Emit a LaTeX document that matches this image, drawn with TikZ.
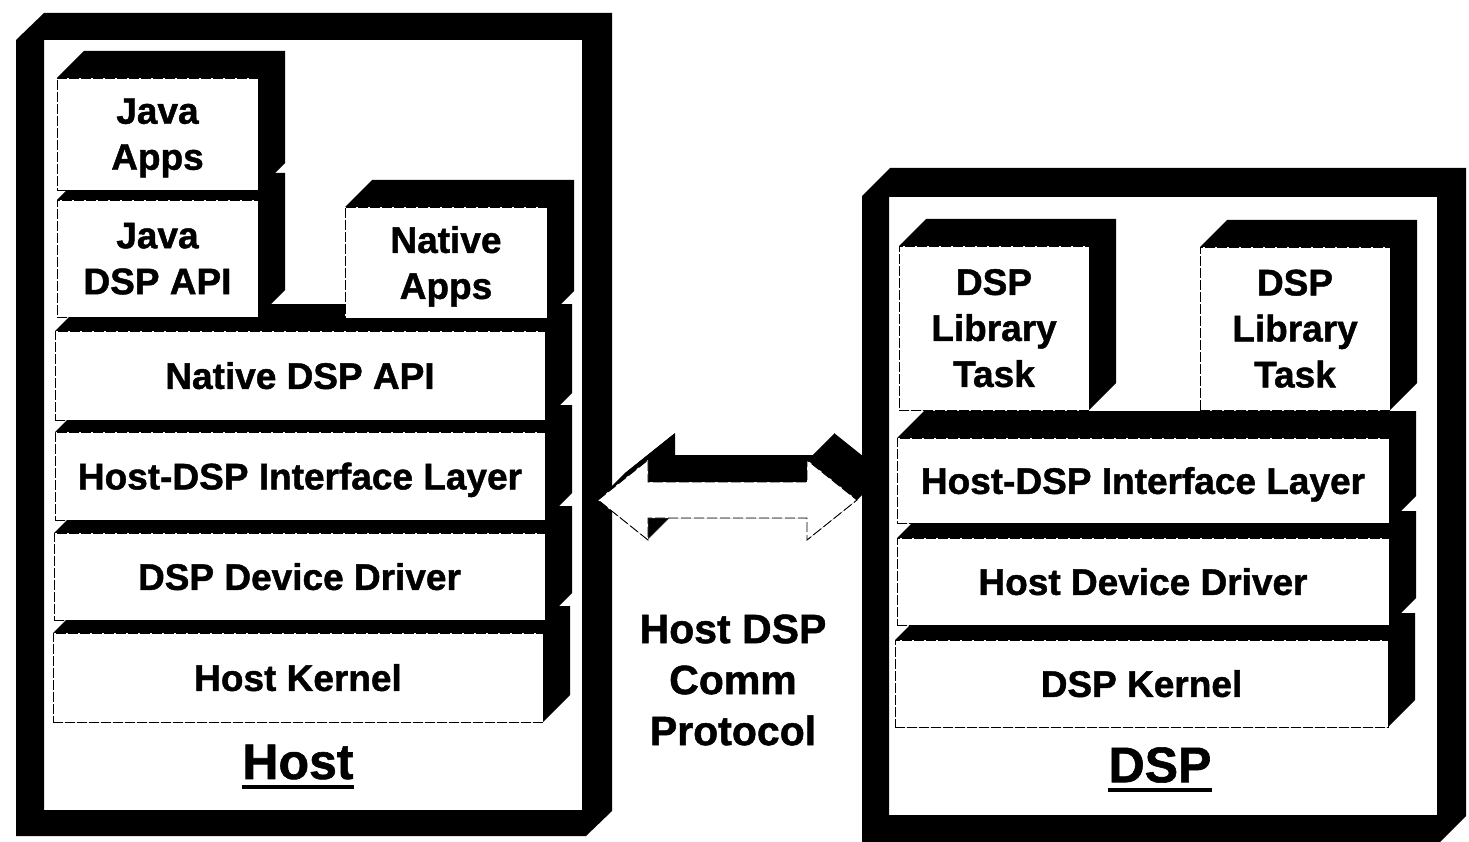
\documentclass[tikz,border=0pt]{standalone}
\usepackage{fontspec}
\setmainfont{Liberation Sans}[BoldFeatures={FakeBold=1.2}]
\tikzset{
  face/.style={draw, fill=white, line width=0.9pt, dash pattern=on 10pt off 2pt,
    inner sep=0pt, align=center, text depth=0pt, font=\bfseries\fontsize{37}{46}\selectfont},
  depth/.style={fill=black},
  lbl/.style={inner sep=0pt, font=\bfseries\fontsize{50}{60}\selectfont},
  uline/.style={line width=4pt},
  proto/.style={align=center, inner sep=0pt, font=\bfseries\fontsize{41}{51}\selectfont}
}
\def\dd{27}
\newcommand\mklayer[6]{%
  \fill[depth] (#2,#5) -- (#2,#3) -- ({#2+\dd},{#3-\dd}) -- ({#4+\dd},{#3-\dd})
     -- ({#4+\dd},{#5-\dd}) -- (#4,#5) -- cycle;
  \node[face, minimum width={(#4-#2)*1pt}, minimum height={(#5-#3)*1pt}]
     (#1) at ({(#2+#4)/2},{(#3+#5)/2}) {#6};
}
\begin{document}
\begin{tikzpicture}[x=1pt,y=-1pt]
\useasboundingbox (0,0) rectangle (1469,842);
% frames
\fill[even odd rule] (16,40) -- (44,13) -- (612,13) -- (612,811) -- (586,836) -- (16,836) -- cycle
   (44,40) rectangle (582,810);
\fill[even odd rule] (862,196) -- (890,168) -- (1466,168) -- (1466,816) -- (1440,842) -- (862,842) -- cycle
   (889,197) rectangle (1437,815);
% host layers (bottom first)
\mklayer{hk}{53}{633}{543}{722}{Host Kernel}
\mklayer{ddd}{54}{533}{545}{620}{DSP Device Driver}
\mklayer{hif}{55}{432}{545}{520}{Host-DSP Interface Layer}
\mklayer{napi}{55}{331}{545}{420}{Native DSP API}
\mklayer{napps}{345}{207}{547}{318}{Native\\Apps}
\mklayer{japi}{57}{200}{258}{317}{Java\\DSP API}
\mklayer{japps}{57}{78}{258}{190}{Java\\Apps}
% dsp layers
\mklayer{dk}{895}{640}{1388}{727}{DSP Kernel}
\mklayer{hdd}{897}{538}{1389}{625}{Host Device Driver}
\mklayer{dif}{897}{438}{1389}{523}{Host-DSP Interface Layer}
\mklayer{lt1}{899}{246}{1089}{410}{DSP\\Library\\Task}
\mklayer{lt2}{1200}{247}{1390}{410}{DSP\\Library\\Task}
% double arrow
\foreach \t in {0,1,...,27}{
  \begin{scope}[shift={(\t,-\t)}]
  \fill (598,500) -- (648,460) -- (648,482) -- (807,482) -- (807,460) -- (857,500)
     -- (807,540) -- (807,518) -- (648,518) -- (648,540) -- cycle;
  \end{scope}
}
\draw[fill=white, line width=0.9pt, dash pattern=on 10pt off 3pt]
  (598,500) -- (648,460) -- (648,482) -- (807,482) -- (807,460) -- (857,500)
     -- (807,540) -- (807,518) -- (648,518) -- (648,540) -- cycle;
% texts
\node[proto] (comm) at (733,680) {Host DSP\\Comm\\Protocol};
\node[lbl] (hostlbl) at (298,762) {Host};
\node[lbl] (dsplbl) at (1160,765) {DSP};
\draw[uline] ([yshift=-8pt]hostlbl.base west) -- ([yshift=-8pt]hostlbl.base east);
\draw[uline] ([yshift=-8pt]dsplbl.base west) -- ([yshift=-8pt]dsplbl.base east);
\end{tikzpicture}
\end{document}
